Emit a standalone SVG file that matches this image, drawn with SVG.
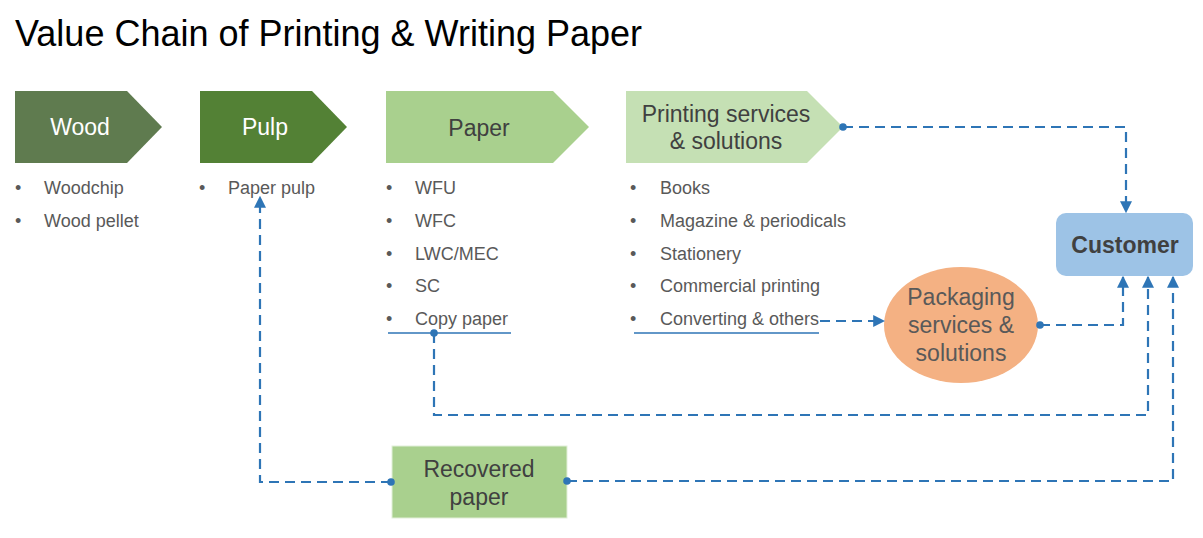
<svg xmlns="http://www.w3.org/2000/svg" width="1203" height="538" viewBox="0 0 1203 538">
<defs>
<style>
text{font-family:"Liberation Sans",Arial,sans-serif}
.title{font-size:36px;fill:#000}
.lbl{font-size:23px;text-anchor:middle}
.w{fill:#fff}
.d{fill:#404040}
.li{font-size:18px;fill:#595959}
.conn{fill:none;stroke:#2E75B6;stroke-width:2.2;stroke-dasharray:10 6}
.ul{stroke:#2E75B6;stroke-width:1.6;fill:none}
.dot{fill:#2E75B6}
</style>
<marker id="arr" viewBox="0 0 10 10" refX="9" refY="5" markerWidth="12" markerHeight="12" markerUnits="userSpaceOnUse" orient="auto">
<path d="M0,0 L10,5 L0,10 z" fill="#2E75B6"/>
</marker>
</defs>
<rect width="1203" height="538" fill="#fff"/>
<text class="title" x="15" y="46">Value Chain of Printing &amp; Writing Paper</text>

<g id="wood">
<polygon points="15,91 127,91 162,127 127,163 15,163" fill="#5F7B4F"/>
<text class="lbl w" x="80" y="135">Wood</text>
<text class="li" x="15" y="194">•</text><text class="li" x="44" y="194">Woodchip</text>
<text class="li" x="15" y="227">•</text><text class="li" x="44" y="227">Wood pellet</text>
</g>
<g id="pulp">
<polygon points="200,91 312,91 347,127 312,163 200,163" fill="#538135"/>
<text class="lbl w" x="265" y="135">Pulp</text>
<text class="li" x="199" y="194">•</text><text class="li" x="228" y="194">Paper pulp</text>
</g>
<g id="paper">
<polygon points="386,91 553,91 589,127 553,163 386,163" fill="#A9D08E"/>
<text class="lbl d" x="479" y="136">Paper</text>
<text class="li" x="386" y="194">•</text><text class="li" x="415" y="194">WFU</text>
<text class="li" x="386" y="227">•</text><text class="li" x="415" y="227">WFC</text>
<text class="li" x="386" y="260">•</text><text class="li" x="415" y="260">LWC/MEC</text>
<text class="li" x="386" y="292">•</text><text class="li" x="415" y="292">SC</text>
<text class="li" x="386" y="325">•</text><text class="li" x="415" y="325">Copy paper</text>
<line class="ul" x1="388" y1="333" x2="511" y2="333"/>
</g>
<g id="printing">
<polygon points="626,91 807,91 843,127 807,163 626,163" fill="#C5E0B4"/>
<text class="lbl d" x="726" y="122">Printing services</text>
<text class="lbl d" x="726" y="149">&amp; solutions</text>
<text class="li" x="630" y="194">•</text><text class="li" x="660" y="194">Books</text>
<text class="li" x="630" y="227">•</text><text class="li" x="660" y="227">Magazine &amp; periodicals</text>
<text class="li" x="630" y="260">•</text><text class="li" x="660" y="260">Stationery</text>
<text class="li" x="630" y="292">•</text><text class="li" x="660" y="292">Commercial printing</text>
<text class="li" x="630" y="325">•</text><text class="li" x="660" y="325">Converting &amp; others</text>
<line class="ul" x1="634" y1="333" x2="819" y2="333"/>
</g>
<g id="customer">
<rect x="1056" y="213" width="137" height="63" rx="10" fill="#9DC3E6"/>
<text class="lbl d" x="1125" y="253" font-weight="bold" font-size="22">Customer</text>
</g>
<g id="packaging">
<ellipse cx="961" cy="325" rx="77" ry="58" fill="#F4B183"/>
<text class="lbl" fill="#595959" x="961" y="305" font-size="22">Packaging</text>
<text class="lbl" fill="#595959" x="961" y="333" font-size="22">services &amp;</text>
<text class="lbl" fill="#595959" x="961" y="361" font-size="22">solutions</text>
</g>
<g id="recovered">
<rect x="392" y="446" width="175" height="72" fill="#A9D08E" stroke="#E2EFD9" stroke-width="1"/>
<text class="lbl d" x="479" y="477">Recovered</text>
<text class="lbl d" x="479" y="505">paper</text>
</g>

<g id="connectors">
<path class="conn" d="M843,127 H1126 V212" marker-end="url(#arr)"/>
<circle class="dot" cx="843" cy="127" r="3.8"/>
<path class="conn" d="M820,321 H884" marker-end="url(#arr)"/>
<path class="conn" d="M1040,325 H1123 V277" marker-end="url(#arr)"/>
<circle class="dot" cx="1040" cy="325" r="3.8"/>
<path class="conn" d="M434,333 V415 H1148 V277" marker-end="url(#arr)"/>
<circle class="dot" cx="434" cy="333" r="3.8"/>
<path class="conn" d="M567,481 H1173 V277" marker-end="url(#arr)"/>
<circle class="dot" cx="567" cy="481" r="3.8"/>
<path class="conn" d="M391,482 H260 V197" marker-end="url(#arr)"/>
<circle class="dot" cx="391" cy="482" r="3.8"/>
</g>
</svg>
